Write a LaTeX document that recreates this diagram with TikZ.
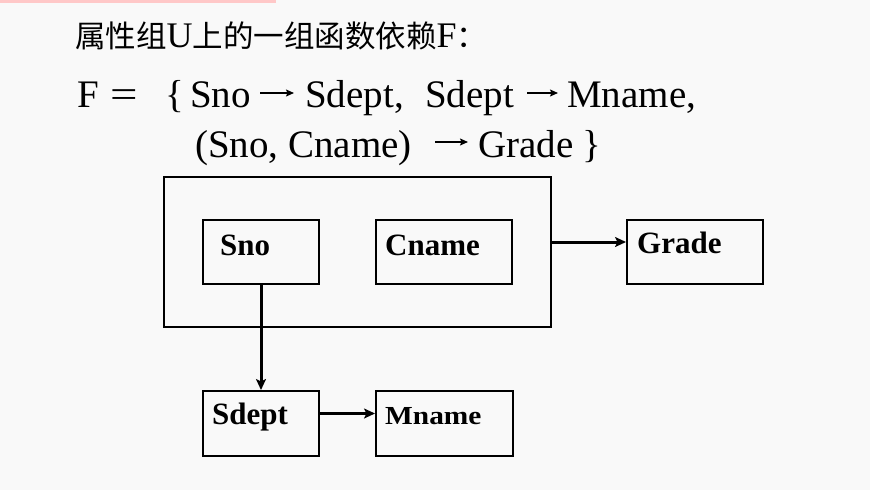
\documentclass[tikz,border=0pt]{standalone}
\usepackage{fontspec}
\newfontfamily\cjk{Noto Sans CJK SC}
\newfontfamily\tnr{Liberation Serif}
\usetikzlibrary{arrows.meta}
\definecolor{bg}{HTML}{F9F9F9}
\definecolor{pinkbar}{HTML}{FFC8C8}
\begin{document}
\begin{tikzpicture}[x=1pt,y=-1pt,
  box/.style={draw=black, line width=2pt, inner sep=0pt, anchor=north west},
  lbl/.style={font=\tnr\bfseries\fontsize{31}{31}\selectfont, inner sep=0pt, anchor=base west},
  ft/.style={font=\tnr\fontsize{39}{39}\selectfont, inner sep=0pt, anchor=base west},
  conn/.style={draw=black, line width=3pt, -{Stealth[length=11pt,width=10pt,inset=2.5pt]}},
  farr/.style={draw=black, line width=1.4pt, -{Stealth[length=8pt,width=7pt,inset=1.5pt]}}]
\useasboundingbox (0,0) rectangle (870,490);
\fill[bg] (0,0) rectangle (870,490);
\fill[pinkbar] (0,0) rectangle (276,2.5);

% title
\node[anchor=base west, inner sep=0pt, font=\cjk\fontsize{30.5}{30.5}\selectfont] (title) at (75,47)
  {属性组{\tnr\fontsize{36}{36}\selectfont U}上的一组函数依赖{\tnr\fontsize{36}{36}\selectfont F}：};

% formula line 1
\node[ft] (fF) at (77,107) {F};
\node[ft] (feq) at (110,107) {\scalebox{1.25}[1]{=}};
\node[ft] (flb) at (165,107) {\{};
\node[ft] (fsno) at (190,107) {Sno};
\coordinate (a1s) at (260,93); \coordinate (a1e) at (294,93);
\draw[farr] (a1s) -- (a1e);
\node[ft] (fsd1) at (305,107) {Sdept,};
\node[ft] (fsd2) at (425,107) {Sdept};
\coordinate (a2s) at (527,93); \coordinate (a2e) at (558,93);
\draw[farr] (a2s) -- (a2e);
\node[ft] (fmn) at (567,107) {Mname,};
% formula line 2
\node[ft] (fsc) at (195,157) {(Sno, Cname)};
\coordinate (a3s) at (435,142); \coordinate (a3e) at (468,142);
\draw[farr] (a3s) -- (a3e);
\node[ft] (fgr) at (478,157) {Grade};
\node[ft] (frb) at (582,157) {\}};

% boxes
\node[box, minimum width=387pt, minimum height=150pt] (outer) at (163,176) {};
\node[box, minimum width=116pt, minimum height=64pt] (sno) at (202,219) {};
\node[box, minimum width=136pt, minimum height=64pt] (cname) at (375,219) {};
\node[box, minimum width=136pt, minimum height=64pt] (grade) at (626,219) {};
\node[box, minimum width=116pt, minimum height=65pt] (sdept) at (202,390) {};
\node[box, minimum width=137pt, minimum height=65pt] (mname) at (375,390) {};

% labels
\node[lbl] (snot) at (220,255) {Sno};
\node[lbl] (cnamet) at (385,255) {Cname};
\node[lbl] (gradet) at (637,253) {Grade};
\node[lbl] (sdeptt) at (212,424) {Sdept};
\node[lbl, font=\tnr\bfseries\fontsize{26}{26}\selectfont] (mnamet) at (385,424) {\scalebox{1.13}[1]{Mname}};

% connectors
\draw[conn] ([yshift=10pt]outer.east) -- ([yshift=10pt]grade.west);
\draw[conn] (sno.south) -- (sdept.north);
\draw[conn] ([yshift=10pt]sdept.east) -- ([yshift=10pt]mname.west);
\end{tikzpicture}
\end{document}
